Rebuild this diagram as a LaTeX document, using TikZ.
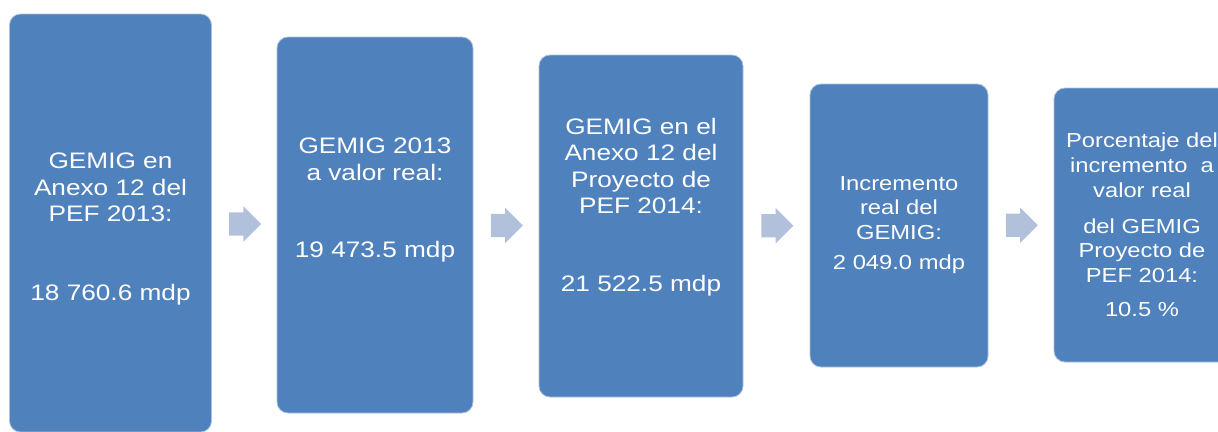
\documentclass[tikz,border=0pt]{standalone}
\usepackage{fontspec}
\setmainfont{Liberation Sans}[FakeStretch=1.17]
\usepackage{tikz}
\usetikzlibrary{shapes,arrows,calc}
\definecolor{boxblue}{RGB}{79,129,189}
\definecolor{edgeblue}{RGB}{170,192,222}
\definecolor{arrowblue}{RGB}{178,193,219}
\tikzstyle{stage} = [draw=edgeblue, line width=0.8pt, fill=boxblue, rectangle, rounded corners=11pt, inner sep=0pt]
\tikzstyle{txt} = [text=white, align=center, inner sep=0pt, anchor=north]
\tikzstyle{big} = [font=\fontsize{22.4}{26.5}\selectfont]
\tikzstyle{small} = [font=\fontsize{20.3}{24.7}\selectfont]
\tikzstyle{flow} = [single arrow, fill=arrowblue, draw=none, inner xsep=0pt, inner ysep=11.5pt, text height=0pt, text depth=0pt, minimum height=32pt, single arrow head extend=6pt, single arrow tip angle=90, xshift=-5pt]

\begin{document}
\begin{tikzpicture}[x=1pt,y=-1pt]

\path[use as bounding box, clip] (0,0) rectangle (1218,431);

\node[stage, minimum width=202pt, minimum height=418pt] (s1) at (110.5,223) {};
\node[stage, minimum width=196pt, minimum height=376pt] (s2) at (375,225) {};
\node[stage, minimum width=204pt, minimum height=342pt] (s3) at (641,226) {};
\node[stage, minimum width=178pt, minimum height=283pt] (s4) at (899,225.5) {};
\node[stage, minimum width=178pt, minimum height=274pt] (s5) at (1143,225) {};

\node[txt, big] (t1) at (110.5,153) {GEMIG en\\Anexo 12 del\\PEF 2013:\\[52pt]18 760.6 mdp};
\node[txt, big] (t2) at (375,138) {GEMIG 2013\\a valor real:\\[51pt]19 473.5 mdp};
\node[txt, big] (t3) at (641,118) {GEMIG en el\\Anexo 12 del\\Proyecto de\\PEF 2014:\\[51pt]21 522.5 mdp};
\node[txt, small] (t4) at (899,176) {Incremento\\real del\\GEMIG:\\[5pt]2 049.0 mdp};
\node[txt, small] (t5) at (1142,133) {Porcentaje del\\incremento \ a\\valor real\\[11pt]del GEMIG\\Proyecto de\\PEF 2014:\\[9pt]10.5 \%};

\node[flow] (f1) at ($(s1.east)!0.5!(s2.west)$) {};
\node[flow] (f2) at ($(s2.east)!0.5!(s3.west)$) {};
\node[flow] (f3) at ($(s3.east)!0.5!(s4.west)$) {};
\node[flow] (f4) at ($(s4.east)!0.5!(s5.west)$) {};

\end{tikzpicture}
\end{document}
